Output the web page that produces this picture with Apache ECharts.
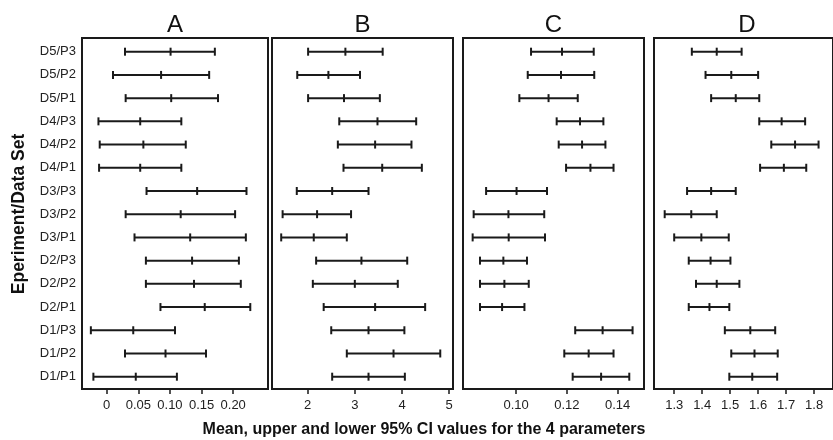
<!DOCTYPE html>
<html>
<head>
<meta charset="utf-8">
<script src="https://cdn.jsdelivr.net/npm/echarts@6/dist/echarts.min.js"></script>
<style>html,body{margin:0;padding:0;background:#fff}#c{width:833px;height:440px}</style>
</head>
<body>
<div id="c"></div>
<script>
// Rows listed top to bottom
const categories = ['D5/P3','D5/P2','D5/P1','D4/P3','D4/P2','D4/P1','D3/P3','D3/P2','D3/P1','D2/P3','D2/P2','D2/P1','D1/P3','D1/P2','D1/P1'];
const panelTitles = ['A','B','C','D'];

const aLow  = [0.029,0.010,0.030,-0.013,-0.011,-0.012,0.063,0.030,0.044,0.062,0.062,0.085,-0.025,0.029,-0.021];
const aMean = [0.101,0.086,0.102,0.053,0.058,0.053,0.143,0.117,0.132,0.135,0.138,0.155,0.042,0.093,0.046];
const aHigh = [0.171,0.162,0.176,0.118,0.125,0.118,0.221,0.203,0.220,0.209,0.212,0.227,0.108,0.157,0.111];

const bLow  = [2.01,1.78,2.01,2.67,2.64,2.76,1.77,1.47,1.44,2.18,2.11,2.34,2.50,2.83,2.52];
const bMean = [2.80,2.44,2.77,3.48,3.43,3.58,2.52,2.20,2.13,3.14,3.00,3.43,3.29,3.82,3.29];
const bHigh = [3.59,3.11,3.53,4.30,4.20,4.42,3.29,2.92,2.83,4.11,3.91,4.49,4.05,4.81,4.06];

const cLow  = [0.1059,0.1046,0.1013,0.1160,0.1168,0.1197,0.0882,0.0833,0.0829,0.0858,0.0858,0.0858,0.1233,0.1190,0.1223];
const cMean = [0.1181,0.1177,0.1128,0.1252,0.1260,0.1293,0.1002,0.0970,0.0971,0.0950,0.0954,0.0945,0.1341,0.1286,0.1335];
const cHigh = [0.1306,0.1308,0.1243,0.1344,0.1352,0.1384,0.1122,0.1111,0.1114,0.1043,0.1050,0.1033,0.1459,0.1384,0.1446];

const dLow  = [1.363,1.412,1.432,1.604,1.647,1.607,1.346,1.266,1.300,1.352,1.378,1.352,1.481,1.504,1.497];
const dMean = [1.452,1.504,1.520,1.684,1.732,1.692,1.432,1.361,1.397,1.430,1.452,1.426,1.572,1.587,1.579];
const dHigh = [1.541,1.600,1.604,1.768,1.816,1.772,1.520,1.452,1.495,1.501,1.533,1.497,1.661,1.670,1.668];

const aTickValues = [0, 0.05, 0.10, 0.15, 0.20];
const aTickLabels = ['0','0.05','0.10','0.15','0.20'];
const bTickValues = [2, 3, 4, 5];
const bTickLabels = ['2','3','4','5'];
const cTickValues = [0.10, 0.12, 0.14];
const cTickLabels = ['0.10','0.12','0.14'];
const dTickValues = [1.3, 1.4, 1.5, 1.6, 1.7, 1.8];
const dTickLabels = ['1.3','1.4','1.5','1.6','1.7','1.8'];

const xAxisTitle = 'Mean, upper and lower 95% CI values for the 4 parameters';
const yAxisTitle = 'Eperiment/Data Set';

const FONT = "'Liberation Sans', Arial, Helvetica, sans-serif";
const INK = '#1a1a1a';

const panels = [
  {low:aLow, mean:aMean, high:aHigh, tv:aTickValues, tl:aTickLabels, left:82,  width:186, min:-0.039, max:0.255},
  {low:bLow, mean:bMean, high:bHigh, tv:bTickValues, tl:bTickLabels, left:272, width:181, min:1.245,  max:5.08},
  {low:cLow, mean:cMean, high:cHigh, tv:cTickValues, tl:cTickLabels, left:463, width:181, min:0.0791, max:0.1504},
  {low:dLow, mean:dMean, high:dHigh, tv:dTickValues, tl:dTickLabels, left:654, width:186, min:1.2278, max:1.8676}
];

function renderItem(params, api) {
  const r = api.value(0);
  const lo = api.coord([api.value(1), r]);
  const mi = api.coord([api.value(2), r]);
  const hi = api.coord([api.value(3), r]);
  const h = 4;
  const style = {stroke: INK, lineWidth: 2};
  const cap = p => ({type:'line', shape:{x1:p[0], y1:p[1]-h, x2:p[0], y2:p[1]+h}, style});
  return {type:'group', children:[
    {type:'line', shape:{x1:lo[0], y1:lo[1], x2:hi[0], y2:hi[1]}, style},
    cap(lo), cap(mi), cap(hi)
  ]};
}

const grids = [], xAxes = [], yAxes = [], series = [], graphics = [];
const rowIdx = categories.map((_, i) => i);

panels.forEach((p, k) => {
  grids.push({left:p.left, width:p.width, top:38, bottom:51, show:true, borderColor:INK, borderWidth:2, backgroundColor:'transparent'});
  xAxes.push({
    type:'value', gridIndex:k, min:p.min, max:p.max, position:'bottom',
    axisLine:{show:false, onZero:false}, splitLine:{show:false},
    axisTick:{show:true, inside:false, length:5, lineStyle:{color:INK, width:1.5}, customValues:p.tv},
    axisLabel:{show:true, margin:10, fontFamily:FONT, fontSize:13, color:'#222', customValues:p.tv,
      formatter:(v) => { const i = p.tv.findIndex(t => Math.abs(t - v) < 1e-9); return i >= 0 ? p.tl[i] : ''; }}
  });
  yAxes.push({
    type:'value', gridIndex:k, inverse:true, min:-0.59, max:14.53, position:'left',
    axisLine:{show:false, onZero:false}, splitLine:{show:false}, axisTick:{show:false},
    axisLabel:{show:k === 0, margin:6, fontFamily:FONT, fontSize:13, color:'#222', customValues:rowIdx,
      formatter:(v) => categories[Math.round(v)] || ''}
  });
  series.push({
    type:'custom', xAxisIndex:k, yAxisIndex:k, renderItem:renderItem,
    encode:{x:[1,2,3], y:0},
    data:categories.map((c, i) => [i, p.low[i], p.mean[i], p.high[i]]),
    silent:true
  });
  graphics.push({type:'text', x:p.left + p.width/2, y:25,
    style:{text:panelTitles[k], fontFamily:FONT, fontSize:24, fill:'#111', align:'center', verticalAlign:'middle', textAlign:'center', textVerticalAlign:'middle'}});
});

graphics.push({type:'text', x:424, y:430,
  style:{text:xAxisTitle, fontFamily:FONT, fontSize:16, fontWeight:'bold', fill:'#111', align:'center', verticalAlign:'middle', textAlign:'center', textVerticalAlign:'middle'}});
graphics.push({type:'text', x:19, y:214, rotation:Math.PI/2,
  style:{text:yAxisTitle, fontFamily:FONT, fontSize:17.5, fontWeight:'bold', fill:'#111', align:'center', verticalAlign:'middle', textAlign:'center', textVerticalAlign:'middle'}});

const chart = echarts.init(document.getElementById('c'), null, {renderer:'canvas'});
chart.setOption({
  animation:false,
  backgroundColor:'#fff',
  grid:grids, xAxis:xAxes, yAxis:yAxes, series:series, graphic:graphics
});
</script>
</body>
</html>
